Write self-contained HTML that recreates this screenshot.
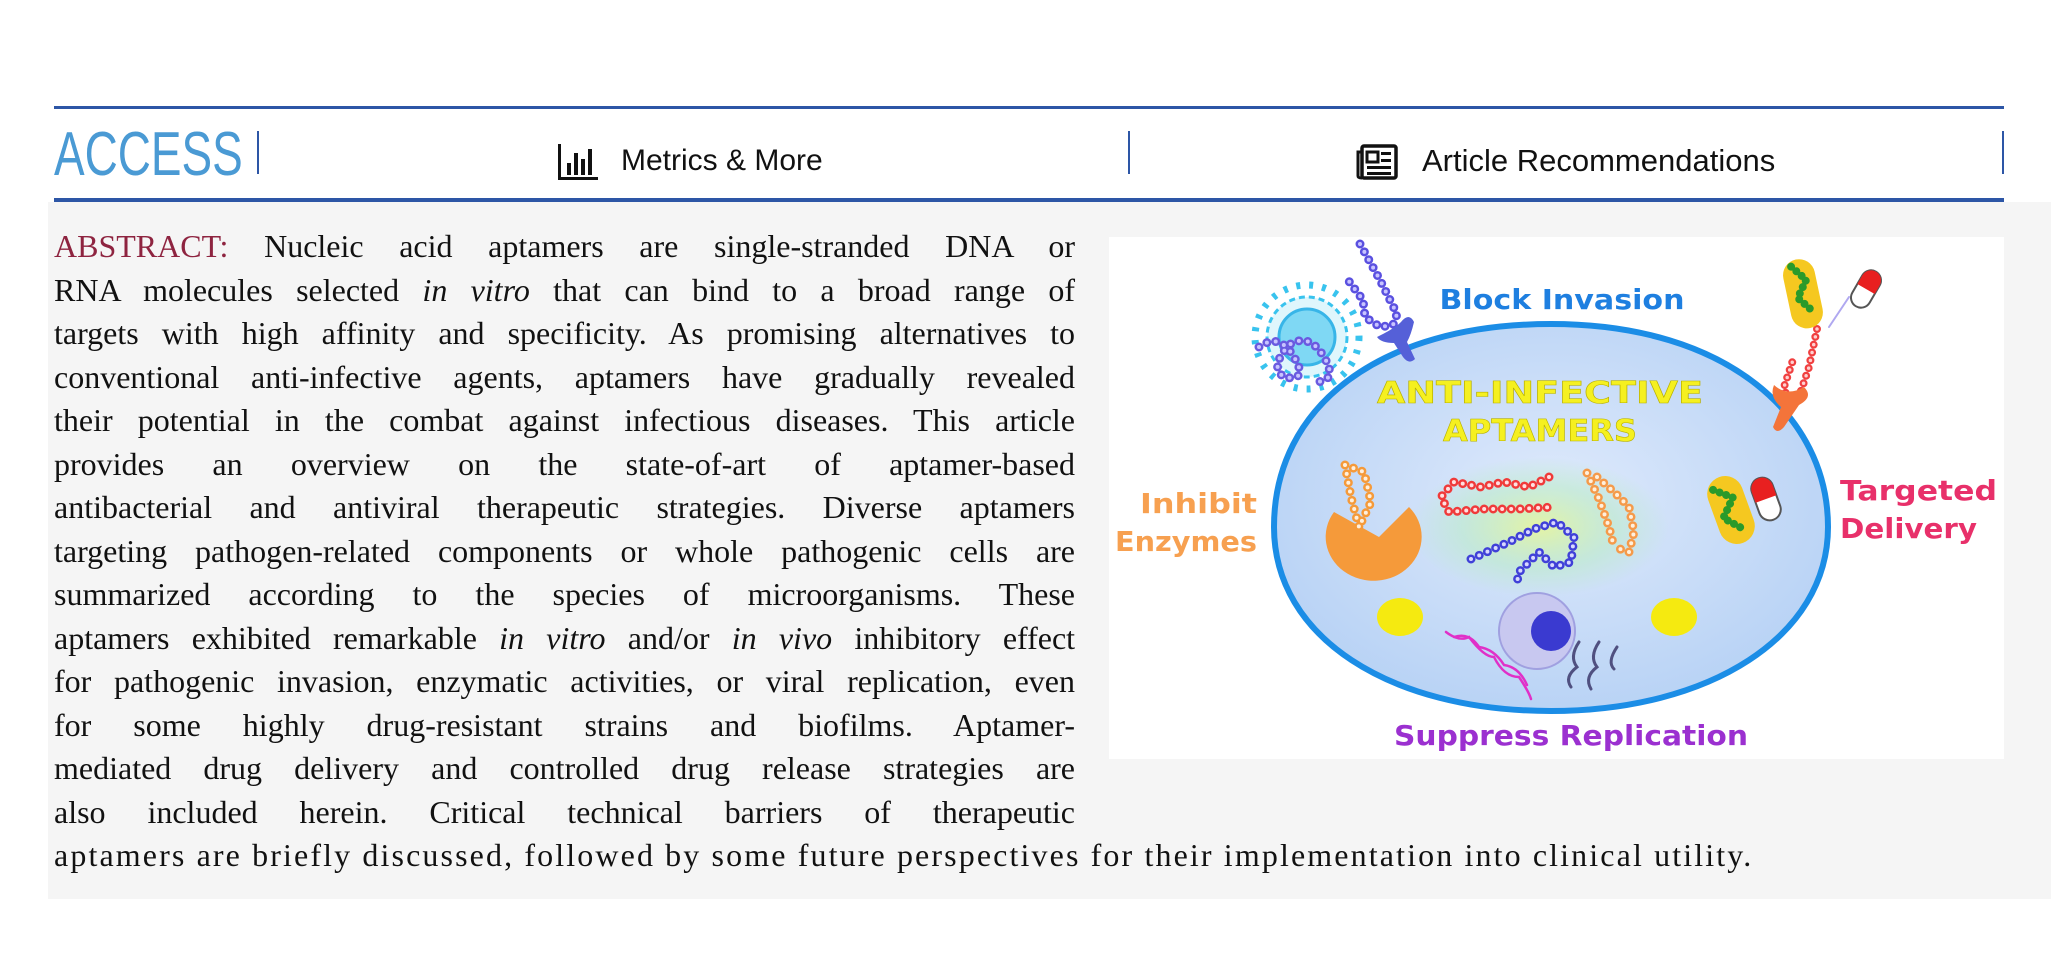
<!DOCTYPE html>
<html><head><meta charset="utf-8"><style>
*{margin:0;padding:0;box-sizing:border-box}
body{width:2051px;height:972px;background:#fff;position:relative;overflow:hidden;font-family:"Liberation Sans",sans-serif}
.abs{position:absolute}
.line{position:absolute;left:54px;width:1021px;font-family:"Liberation Serif",serif;font-size:32px;line-height:44px;height:44px;color:#111;text-align:justify;text-align-last:justify;white-space:nowrap}
</style></head><body>
<div class="abs" style="left:54px;top:106px;width:1950px;height:3px;background:#2d56a6"></div>
<div class="abs" style="left:54px;top:198px;width:1950px;height:4px;background:#2d56a6"></div>
<div class="abs" style="left:48px;top:202px;width:2003px;height:697px;background:#f5f5f5"></div>
<div class="abs" style="left:54px;top:122px;font-size:62px;line-height:66px;color:#4a9ad4;transform:scaleX(0.74);transform-origin:left top">ACCESS</div>
<div class="abs" style="left:257px;top:131px;width:2px;height:43px;background:#2d56a6"></div>
<div class="abs" style="left:1128px;top:131px;width:2px;height:43px;background:#2d56a6"></div>
<div class="abs" style="left:2002px;top:131px;width:2px;height:43px;background:#2d56a6"></div>
<svg class="abs" style="left:558px;top:144px" width="40" height="36" viewBox="0 0 40 36"><rect x="0" y="0" width="3" height="36" fill="#111"/><rect x="0" y="33" width="40" height="3" fill="#111"/><rect x="9" y="19" width="4" height="12" fill="#111"/><rect x="16" y="9" width="4" height="22" fill="#111"/><rect x="23" y="15" width="4" height="16" fill="#111"/><rect x="30" y="5" width="4" height="26" fill="#111"/></svg>
<div class="abs" style="left:621px;top:143px;font-size:30px;line-height:36px;color:#111">Metrics &amp; More</div>
<svg class="abs" style="left:1356px;top:144px" width="42" height="36" viewBox="0 0 42 36"><rect x="6" y="2" width="34" height="32" fill="none" stroke="#111" stroke-width="3.5" rx="2"/><path d="M6 8 H2 V32 Q2 34 6 34" fill="none" stroke="#111" stroke-width="3"/><rect x="11" y="8" width="11" height="10" fill="none" stroke="#111" stroke-width="3"/><rect x="25" y="8" width="10" height="3" fill="#111"/><rect x="25" y="15" width="10" height="3" fill="#111"/><rect x="11" y="22" width="24" height="3" fill="#111"/><rect x="11" y="28" width="24" height="3" fill="#111"/></svg>
<div class="abs" style="left:1422px;top:143px;font-size:31px;line-height:36px;color:#111">Article Recommendations</div>

<div class="line" style="top:224px"><span style="color:#8e2440">ABSTRACT:</span> Nucleic acid aptamers are single-stranded DNA or</div>
<div class="line" style="top:268px">RNA molecules selected <i>in vitro</i> that can bind to a broad range of</div>
<div class="line" style="top:311px">targets with high affinity and specificity. As promising alternatives to</div>
<div class="line" style="top:355px">conventional anti-infective agents, aptamers have gradually revealed</div>
<div class="line" style="top:398px">their potential in the combat against infectious diseases. This article</div>
<div class="line" style="top:442px">provides an overview on the state-of-art of aptamer-based</div>
<div class="line" style="top:485px">antibacterial and antiviral therapeutic strategies. Diverse aptamers</div>
<div class="line" style="top:529px">targeting pathogen-related components or whole pathogenic cells are</div>
<div class="line" style="top:572px">summarized according to the species of microorganisms. These</div>
<div class="line" style="top:616px">aptamers exhibited remarkable <i>in vitro</i> and/or <i>in vivo</i> inhibitory effect</div>
<div class="line" style="top:659px">for pathogenic invasion, enzymatic activities, or viral replication, even</div>
<div class="line" style="top:703px">for some highly drug-resistant strains and biofilms. Aptamer-</div>
<div class="line" style="top:746px">mediated drug delivery and controlled drug release strategies are</div>
<div class="line" style="top:790px">also included herein. Critical technical barriers of therapeutic</div>
<div class="line" style="top:833px;width:auto;text-align:left;text-align-last:left;letter-spacing:2.12px">aptamers are briefly discussed, followed by some future perspectives for their implementation into clinical utility.</div>

<svg class="abs" style="left:1109px;top:237px" width="895" height="522" viewBox="0 0 895 522">
<defs>
<radialGradient id="cell" cx="50%" cy="45%" r="55%"><stop offset="0" stop-color="#dfeafc"/><stop offset="1" stop-color="#b9d3f5"/></radialGradient>
<radialGradient id="glow" cx="50%" cy="50%" r="50%"><stop offset="0" stop-color="#e6f59a" stop-opacity="0.9"/><stop offset="0.6" stop-color="#b6ecc0" stop-opacity="0.5"/><stop offset="1" stop-color="#b6ecc0" stop-opacity="0"/></radialGradient>
</defs>
<rect width="895" height="522" fill="#fff"/>
<path d="M442 87 C620 87 719 180 719 290 C719 400 600 474 442 474 C280 474 165 400 165 290 C165 170 270 87 442 87 Z" fill="url(#cell)" stroke="#1b8de6" stroke-width="6"/>
<ellipse cx="430" cy="290" rx="130" ry="70" fill="url(#glow)"/>
<circle cx="198" cy="100" r="40" fill="#dff6fc" stroke="#38c3ee" stroke-width="3" stroke-dasharray="6 4"/>
<circle cx="198" cy="100" r="28" fill="#7fd8f4" stroke="#38b5e8" stroke-width="3"/>
<circle cx="198" cy="100" r="52" fill="none" stroke="#38c3ee" stroke-width="7" stroke-dasharray="4 9"/>
<g fill="none" stroke-linecap="round">
<path d="M150 110 Q170 95 185 120 Q200 145 175 140 Q160 130 180 108 Q200 95 215 120 Q230 145 205 145" stroke="#6a5ae0" stroke-width="9" stroke-dasharray="0 9"/>
<path d="M150 110 Q170 95 185 120 Q200 145 175 140 Q160 130 180 108 Q200 95 215 120 Q230 145 205 145" stroke="#c8c4ff" stroke-width="4" stroke-dasharray="0 9"/>
<path d="M251 7 L271 43 L288 77 L284 88 L271 90 L256 80 L254 63 L239 43" stroke="#5a50e0" stroke-width="9" stroke-dasharray="0 9"/>
<path d="M251 7 L271 43 L288 77 L284 88 L271 90 L256 80 L254 63 L239 43" stroke="#c8c4ff" stroke-width="4" stroke-dasharray="0 9"/>
</g>
<path d="M268 100 Q285 92 292 85 Q300 75 305 85 Q302 98 298 105 L306 122 Q300 128 294 120 L285 106 Q272 106 268 100Z" fill="#5560d8"/>
<g fill="none" stroke-linecap="round">
<path d="M708 92 L700 130 L690 160 L680 168 L675 150 L685 120" stroke="#f04040" stroke-width="8" stroke-dasharray="0 8"/>
<path d="M708 92 L700 130 L690 160 L680 168 L675 150 L685 120" stroke="#ffd0d0" stroke-width="3.5" stroke-dasharray="0 8"/>
<path d="M720 90 L740 60" stroke="#b0a8f0" stroke-width="2"/>
</g>
<path d="M665 148 Q678 160 695 150 Q705 160 690 168 L675 190 Q668 198 664 190 L672 170 Q660 160 665 148Z" fill="#f4743a"/>
<g transform="rotate(-12 693 57)"><rect x="678" y="22" width="32" height="70" rx="16" fill="#f5c820"/>
<path d="M688 28 L700 44 L688 60 L700 76" fill="none" stroke="#2a9a2a" stroke-width="8" stroke-dasharray="0 7" stroke-linecap="round"/></g>
<g transform="rotate(30 757 52)"><rect x="747" y="32" width="20" height="40" rx="10" fill="#fff" stroke="#555" stroke-width="2"/><path d="M747 52 V42 A10 10 0 0 1 767 42 V52Z" fill="#e82020"/></g>
<g transform="rotate(-20 622 273)"><rect x="604" y="238" width="36" height="70" rx="18" fill="#f5c820"/>
<path d="M612 248 L628 262 L612 278 L628 296" fill="none" stroke="#2a9a2a" stroke-width="8" stroke-dasharray="0 7" stroke-linecap="round"/></g>
<g transform="rotate(-20 657 262)"><rect x="646" y="240" width="22" height="44" rx="11" fill="#fff" stroke="#555" stroke-width="2"/><path d="M646 262 V251 A11 11 0 0 1 668 251 V262Z" fill="#e82020"/></g>
<path d="M225 275 A48 44 0 1 0 300 270 L270 300 Z" fill="#f59a3a"/>
<g fill="none" stroke-linecap="round">
<path d="M236 228 L242 260 L250 290 M236 228 L255 235 L262 265 L250 290" stroke="#f59a3a" stroke-width="9" stroke-dasharray="0 9"/>
<path d="M236 228 L242 260 L250 290 M236 228 L255 235 L262 265 L250 290" stroke="#fff0dd" stroke-width="4" stroke-dasharray="0 9"/>
<path d="M440 240 L420 250 L395 245 L372 250 L345 245 L332 260 L340 275 L375 272 L410 272 L445 270" stroke="#f03a3a" stroke-width="9" stroke-dasharray="0 9"/>
<path d="M440 240 L420 250 L395 245 L372 250 L345 245 L332 260 L340 275 L375 272 L410 272 L445 270" stroke="#ffe0e0" stroke-width="4" stroke-dasharray="0 9"/>
<path d="M362 322 L400 305 L425 292 L448 285 L465 300 L462 325 L445 330 L430 315 L410 335 L408 345" stroke="#4040d8" stroke-width="9" stroke-dasharray="0 9"/>
<path d="M362 322 L400 305 L425 292 L448 285 L465 300 L462 325 L445 330 L430 315 L410 335 L408 345" stroke="#d8d8ff" stroke-width="4" stroke-dasharray="0 9"/>
<path d="M478 236 L490 262 L500 290 L505 310 M488 240 L505 255 L520 270 L525 295 L520 315 L505 310" stroke="#f59a4a" stroke-width="9" stroke-dasharray="0 9"/>
<path d="M478 236 L490 262 L500 290 L505 310 M488 240 L505 255 L520 270 L525 295 L520 315 L505 310" stroke="#fff0dd" stroke-width="4" stroke-dasharray="0 9"/>
<path d="M337 395 Q350 405 360 400 Q375 420 385 420 Q395 440 410 440 Q420 455 422 462" stroke="#e030c8" stroke-width="2.5"/>
<path d="M345 400 Q360 395 370 410 Q385 412 395 428 Q410 430 418 448" stroke="#e030c8" stroke-width="2.5"/>
<path d="M470 405 Q460 420 468 430 Q455 440 462 450 M490 405 Q480 420 488 430 Q475 440 482 452 M508 410 Q498 425 505 432" stroke="#505080" stroke-width="3"/>
</g>
<ellipse cx="291" cy="380" rx="23" ry="19" fill="#f5ea10"/>
<ellipse cx="565" cy="380" rx="23" ry="19" fill="#f5ea10"/>
<circle cx="428" cy="394" r="38" fill="#c8c8f0" stroke="#a0a0e0" stroke-width="2"/>
<circle cx="442" cy="394" r="20" fill="#3a3ad0"/>
<g font-family="'DejaVu Sans','Liberation Sans',sans-serif" font-weight="bold">
<text x="453" y="72" font-size="28" fill="#1e7fe0" text-anchor="middle" textLength="245" lengthAdjust="spacingAndGlyphs">Block Invasion</text>
<text x="431" y="166" font-size="30" fill="#f5f020" stroke="#b8b000" stroke-width="0.6" text-anchor="middle" textLength="326" lengthAdjust="spacingAndGlyphs">ANTI-INFECTIVE</text>
<text x="431" y="204" font-size="30" fill="#f5f020" stroke="#b8b000" stroke-width="0.6" text-anchor="middle" textLength="194" lengthAdjust="spacingAndGlyphs">APTAMERS</text>
<text x="148" y="276" font-size="28" fill="#f7a050" text-anchor="end" textLength="117" lengthAdjust="spacingAndGlyphs">Inhibit</text>
<text x="148" y="314" font-size="28" fill="#f7a050" text-anchor="end" textLength="142" lengthAdjust="spacingAndGlyphs">Enzymes</text>
<text x="731" y="263" font-size="28" fill="#e8306a" textLength="157" lengthAdjust="spacingAndGlyphs">Targeted</text>
<text x="731" y="301" font-size="28" fill="#e8306a" textLength="137" lengthAdjust="spacingAndGlyphs">Delivery</text>
<text x="462" y="508" font-size="28" fill="#9b30d0" text-anchor="middle" textLength="354" lengthAdjust="spacingAndGlyphs">Suppress Replication</text>
</g>
</svg>
</body></html>
